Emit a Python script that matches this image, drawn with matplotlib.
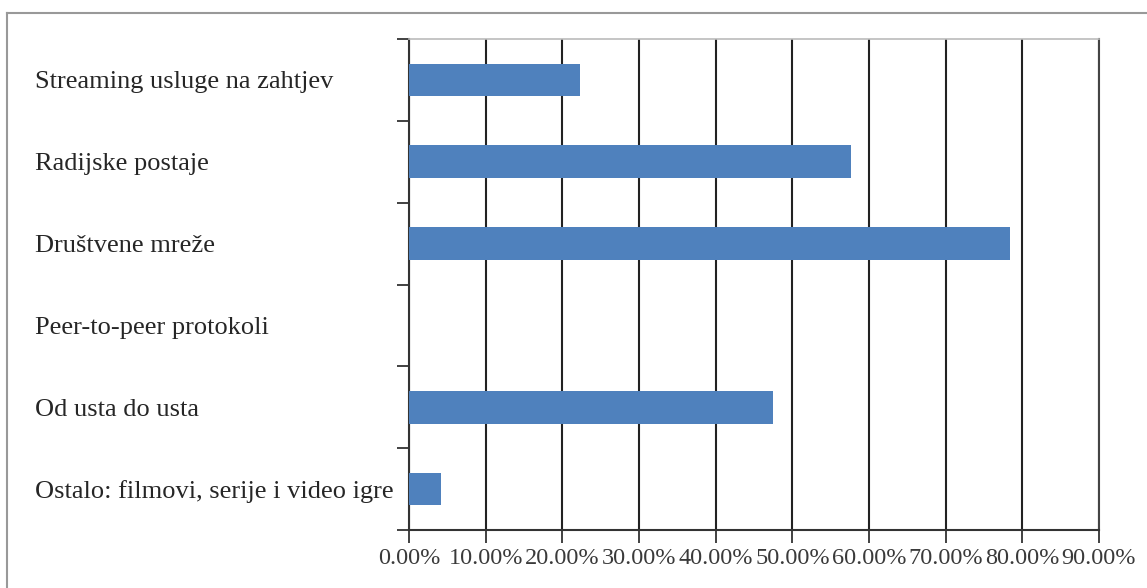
import matplotlib
matplotlib.use("Agg")
import matplotlib.pyplot as plt
from matplotlib.lines import Line2D
from matplotlib.ticker import FuncFormatter

categories = [
    "Streaming usluge na zahtjev",
    "Radijske postaje",
    "Društvene mreže",
    "Peer-to-peer protokoli",
    "Od usta do usta",
    "Ostalo: filmovi, serije i video igre",
]
values = [22.3, 57.6, 78.4, 0.0, 47.5, 4.2]
xticks = [0, 10, 20, 30, 40, 50, 60, 70, 80, 90]

plt.rcParams['font.family'] = ['Liberation Serif', 'DejaVu Serif']

fig = plt.figure(figsize=(11.47, 5.88), dpi=100)
ax = fig.add_axes([409/1147, 1-530/588, (1099-409)/1147, (530-39)/588])

n = len(categories)
ypos = list(range(n))
ax.barh(ypos, values, height=0.4, color="#4F81BD", zorder=3)
ax.set_ylim(n - 0.5, -0.5)
ax.set_xlim(0, 90)

ax.set_xticks(xticks)
ax.xaxis.set_major_formatter(FuncFormatter(lambda v, p: f"{v:.2f}%"))
ax.set_yticks([i - 0.5 for i in range(n + 1)])
ax.set_yticklabels([])
ax.set_yticks(ypos, minor=True)
ax.set_yticklabels(categories, minor=True)
ax.tick_params(axis='y', which='minor', length=0, pad=(409 - 35) * 0.72, labelsize=19, labelcolor="#262626")
ax.tick_params(axis='y', which='major', length=9, width=1.3, color="#333333", direction='out')
ax.tick_params(axis='x', length=9, width=1.3, color="#333333", labelsize=17.5, labelcolor="#3a3a3a", pad=4)
for lab in ax.get_yticklabels(minor=True):
    lab.set_horizontalalignment('left')

ax.grid(axis='x', color="#222222", linewidth=1.5, zorder=0)
ax.spines['left'].set_color("#333333")
ax.spines['left'].set_linewidth(1.5)
ax.spines['bottom'].set_color("#333333")
ax.spines['bottom'].set_linewidth(1.5)
ax.spines['top'].set_color("#bbbbbb")
ax.spines['top'].set_linewidth(1.2)
ax.spines['right'].set_color("#444444")
ax.spines['right'].set_linewidth(1.5)

# outer frame
fig.add_artist(Line2D([7/1147, 1.0], [1-13/588, 1-13/588], color="#999999", linewidth=1.5, transform=fig.transFigure))
fig.add_artist(Line2D([7/1147, 7/1147], [0, 1-13/588], color="#999999", linewidth=1.5, transform=fig.transFigure))

fig.savefig("out.png", dpi=100)
